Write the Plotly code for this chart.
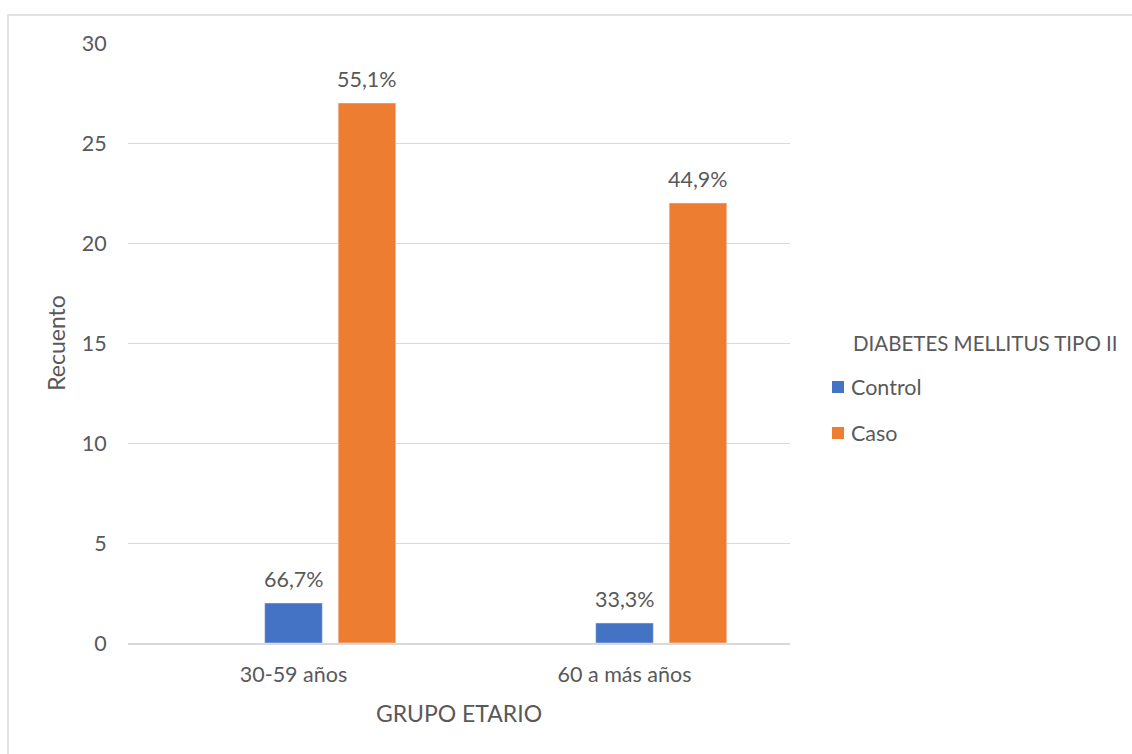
import plotly.graph_objects as go

# Age groups and counts per diabetes group
grupos = ["30-59 años", "60 a más años"]
control = [2, 1]
caso = [27, 22]
control_pct = ["66,7%", "33,3%"]
caso_pct = ["55,1%", "44,9%"]

y_ticks = [0, 5, 10, 15, 20, 25, 30]

series = [
    dict(name="Control", values=control, labels=control_pct, color="#4472C4"),
    dict(name="Caso", values=caso, labels=caso_pct, color="#ED7D31"),
]
legend_title = "DIABETES MELLITUS TIPO II"

FONT = "Lato"
GRAY = "#595959"
FS = 21.5

# plot area in pixels
L, R, T, B = 128, 342, 43, 111
W, H = 1132, 754
PW, PH = W - L - R, H - T - B


def px_x(px):
    return (px - L) / PW


def px_y(py):
    return (H - B - py) / PH


fig = go.Figure()

# empty leading series keeps the cluster offset to the right of the category centre
fig.add_trace(go.Bar(x=grupos, y=[None, None], showlegend=False,
                     marker_color="rgba(0,0,0,0)", hoverinfo="skip", offsetgroup="0"))

annotations = []
shapes = []
for i, s in enumerate(series):
    fig.add_trace(go.Bar(x=grupos, y=s["values"], name=s["name"],
                         marker_color=s["color"], showlegend=False,
                         offsetgroup=str(i + 1)))

# value labels above each bar (slot 0 is the empty series, left of centre)
slot = (1 - 0.334) / 3
for i, s in enumerate(series):
    off = i * slot
    for j, g in enumerate(grupos):
        annotations.append(dict(
            x=j + off, y=s["values"][j], xref="x", yref="y",
            text=s["labels"][j], showarrow=False, yanchor="bottom",
            yshift=9, font=dict(family=FONT, size=FS, color=GRAY)))

# legend block
annotations.append(dict(x=px_x(851), y=px_y(343), xref="paper", yref="paper",
                        text=legend_title, showarrow=False, xanchor="left", yanchor="middle",
                        font=dict(family=FONT, size=20.5, color=GRAY)))
for k, s in enumerate(series):
    cy = 387 + 46 * k
    shapes.append(dict(type="rect", xref="paper", yref="paper",
                       x0=px_x(832), x1=px_x(844), y0=px_y(cy + 6), y1=px_y(cy - 6),
                       fillcolor=s["color"], line=dict(width=0)))
    annotations.append(dict(x=px_x(849), y=px_y(cy), xref="paper", yref="paper",
                            text=s["name"], showarrow=False, xanchor="left", yanchor="middle",
                            font=dict(family=FONT, size=FS, color=GRAY)))

# outer chart border
shapes.append(dict(type="rect", xref="paper", yref="paper",
                   x0=px_x(8), x1=px_x(1140), y0=px_y(760), y1=px_y(15),
                   line=dict(color="#D9D9D9", width=1.5), layer="below"))

fig.update_layout(
    width=W, height=H,
    margin=dict(l=L, r=R, t=T, b=B),
    paper_bgcolor="white", plot_bgcolor="white",
    font=dict(family=FONT, size=FS, color=GRAY),
    barmode="group", bargap=0.334, bargroupgap=0.216,
    showlegend=False,
    xaxis=dict(
        showgrid=False, showline=True, linecolor="#D9D9D9", linewidth=1.5,
        ticks="outside", ticklen=11, tickcolor="rgba(0,0,0,0)",
        title=dict(text="GRUPO ETARIO", standoff=20, font=dict(family=FONT, size=23, color=GRAY)),
    ),
    yaxis=dict(
        range=[0, 30], tickvals=y_ticks, showgrid=True, gridcolor="#D9D9D9", gridwidth=1,
        zeroline=False, showline=False,
        ticks="outside", ticklen=16, tickcolor="rgba(0,0,0,0)",
        title=dict(text="Recuento", standoff=9, font=dict(family=FONT, size=23, color=GRAY)),
    ),
    annotations=annotations,
    shapes=shapes,
)

fig.write_html("out.html")
